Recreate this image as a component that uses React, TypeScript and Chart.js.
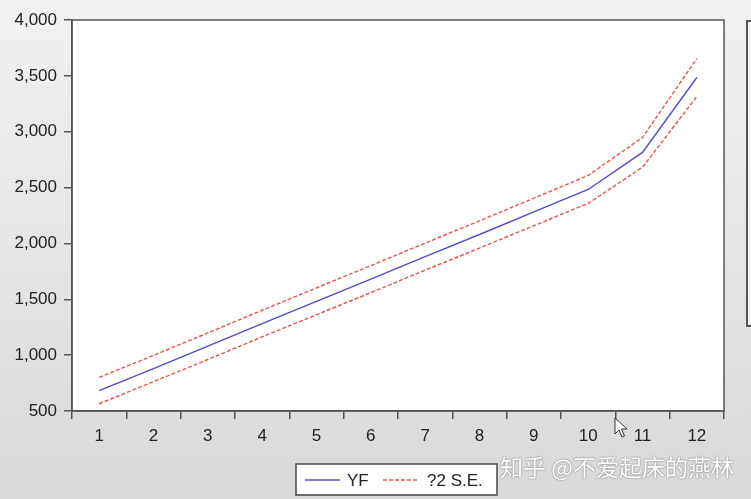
import React, { useEffect, useRef } from "react";
import { Chart, registerables } from "chart.js";

Chart.register(...registerables);

const categories = ["1", "2", "3", "4", "5", "6", "7", "8", "9", "10", "11", "12"];
const yfValues = [683, 880, 1080, 1283, 1482, 1680, 1882, 2080, 2282, 2483, 2815, 3485];
const upperValues = [801, 998, 1199, 1402, 1602, 1801, 2003, 2202, 2405, 2608, 2948, 3655];
const lowerValues = [565, 762, 961, 1164, 1362, 1559, 1761, 1958, 2159, 2358, 2682, 3315];
const yTicks = [500, 1000, 1500, 2000, 2500, 3000, 3500, 4000];

const BLUE = "#4f4fc4";
const RED = "#e25a48";
const AXIS = "#555555";
const FONT = "'Liberation Sans', Arial, sans-serif";

const plotBg = {
  id: "plotBg",
  beforeDraw(chart: any) {
    const { ctx, chartArea } = chart;
    ctx.save();
    ctx.fillStyle = "#ffffff";
    ctx.fillRect(chartArea.left, chartArea.top, chartArea.right - chartArea.left, chartArea.bottom - chartArea.top);
    ctx.restore();
  },
};

const frame = {
  id: "frame",
  afterDatasetsDraw(chart: any) {
    const { ctx, chartArea } = chart;
    ctx.save();
    ctx.strokeStyle = AXIS;
    ctx.lineWidth = 1.5;
    ctx.strokeRect(chartArea.left, chartArea.top, chartArea.right - chartArea.left, chartArea.bottom - chartArea.top);
    ctx.restore();
  },
};

const legendBox = {
  id: "legendBox",
  afterDraw(chart: any) {
    const { ctx } = chart;
    const ds = chart.data.datasets;
    ctx.save();
    ctx.fillStyle = "#ffffff";
    ctx.fillRect(296, 464, 201, 31);
    ctx.strokeStyle = "#444";
    ctx.lineWidth = 1.5;
    ctx.strokeRect(296, 464, 201, 31);
    ctx.font = `17px ${FONT}`;
    ctx.textBaseline = "middle";
    ctx.fillStyle = "#222";
    ctx.strokeStyle = ds[0].borderColor;
    ctx.lineWidth = 1.4;
    ctx.beginPath();
    ctx.moveTo(305, 480);
    ctx.lineTo(340, 480);
    ctx.stroke();
    ctx.fillText(ds[0].label, 347, 481);
    ctx.strokeStyle = ds[1].borderColor;
    ctx.setLineDash([4, 2]);
    ctx.beginPath();
    ctx.moveTo(383, 480);
    ctx.lineTo(418, 480);
    ctx.stroke();
    ctx.setLineDash([]);
    ctx.fillText(ds[1].label, 427, 481);
    ctx.restore();
  },
};

export default function App() {
  const ref = useRef<HTMLCanvasElement | null>(null);
  useEffect(() => {
    if (!ref.current) return;
    const chart = new Chart(ref.current, {
      type: "line",
      data: {
        labels: categories,
        datasets: [
          { label: "YF", data: yfValues, borderColor: BLUE, borderWidth: 1.4, pointRadius: 0, tension: 0 },
          { label: "?2 S.E.", data: upperValues, borderColor: RED, borderWidth: 1.4, borderDash: [4, 2], pointRadius: 0, tension: 0 },
          { label: "lower", data: lowerValues, borderColor: RED, borderWidth: 1.4, borderDash: [4, 2], pointRadius: 0, tension: 0 },
        ],
      },
      options: {
        responsive: false,
        animation: false,
        layout: { padding: { top: 20, right: 27, left: 0, bottom: 0 } },
        plugins: { legend: { display: false }, tooltip: { enabled: false } },
        scales: {
          x: {
            offset: true,
            grid: { offset: true, drawOnChartArea: false, drawTicks: true, tickLength: 8, color: AXIS, lineWidth: 1.5 },
            border: { display: true, color: AXIS, width: 1.5 },
            ticks: { color: "#222", font: { family: FONT, size: 17 }, padding: 7, maxRotation: 0, autoSkip: false },
            afterFit: (s: any) => { s.height = 88; },
          },
          y: {
            min: 500,
            max: 4000,
            afterBuildTicks: (s: any) => { s.ticks = yTicks.map((v) => ({ value: v })); },
            grid: { drawOnChartArea: false, drawTicks: true, tickLength: 8, color: AXIS, lineWidth: 1.5 },
            border: { display: true, color: AXIS, width: 1.5 },
            ticks: {
              color: "#222",
              font: { family: FONT, size: 17 },
              padding: 7,
              callback: (v: any) => Number(v).toLocaleString("en-US"),
            },
            afterFit: (s: any) => { s.width = 72; },
          },
        },
      },
      plugins: [plotBg, frame, legendBox],
    });
    return () => chart.destroy();
  }, []);

  return (
    <div
      style={{
        position: "fixed",
        left: 0,
        top: 0,
        width: 751,
        height: 499,
        overflow: "hidden",
        background: "linear-gradient(#f1f1f1, #d9d9d9)",
      }}
    >
      <canvas ref={ref} width={751} height={499} style={{ display: "block", position: "absolute", left: 0, top: 0 }} />
      <div
        style={{
          position: "absolute",
          left: 746,
          top: 20,
          width: 10,
          height: 303,
          borderLeft: "2px solid #555",
          borderTop: "2px solid #555",
          borderBottom: "2px solid #555",
          background: "#f3f3f3",
        }}
      />
      <div
        style={{
          position: "absolute",
          left: 500,
          top: 449,
          fontFamily: "'Noto Sans CJK SC', sans-serif",
          fontSize: 23,
          color: "#ffffff",
          textShadow: "0 0 2px #888, 0 0 1px #777",
          whiteSpace: "nowrap",
        }}
      >
        知乎 @不爱起床的燕林
      </div>
      <svg style={{ position: "absolute", left: 614, top: 417 }} width="16" height="22" viewBox="0 0 16 22">
        <path d="M1 1 L1 17 L5 13 L8 20 L10.5 19 L7.5 12 L13 12 Z" fill="#ffffff" stroke="#333" strokeWidth="1" />
      </svg>
    </div>
  );
}
